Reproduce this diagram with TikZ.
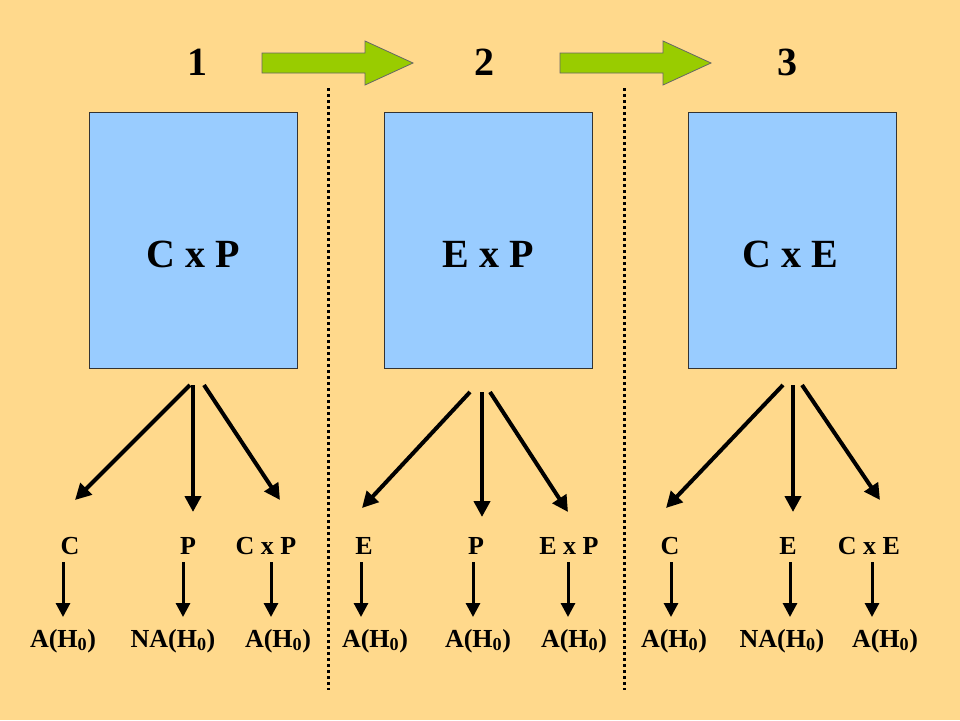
\documentclass[tikz,border=0pt]{standalone}
\usepackage{fontspec}
\setmainfont{Liberation Serif}
\usetikzlibrary{arrows.meta}
\definecolor{bg}{HTML}{FFD98C}
\definecolor{bx}{HTML}{99CCFF}
\definecolor{gr}{HTML}{99CC00}
\tikzset{
 box/.style={draw=black!80,fill=bx,line width=0.8pt,minimum width=208pt,minimum height=256pt,inner sep=0pt,font=\bfseries\fontsize{40}{40}\selectfont},
 num/.style={font=\bfseries\fontsize{40}{40}\selectfont},
 lab/.style={font=\bfseries\fontsize{26}{26}\selectfont,inner sep=0pt},
 big/.style={-{Triangle[length=16pt,width=16pt]},line width=4pt},
 small/.style={-{Triangle[length=14pt,width=14pt]},line width=3pt},
 dots/.style={line width=3pt,dash pattern=on 3pt off 3pt},
}
\begin{document}
\begin{tikzpicture}[x=1pt,y=-1pt]
\fill[bg] (0,0) rectangle (960,720);
\useasboundingbox (0,0) rectangle (960,720);
\node[num] (n1) at (197,62) {1};
\node[num] (n2) at (484,62) {2};
\node[num] (n3) at (787,62) {3};
\foreach \x in {262,560}{
 \draw[fill=gr,draw=black!60,line width=0.8pt] (\x,53)--(\x+103,53)--(\x+103,41)--(\x+151,63)--(\x+103,85)--(\x+103,73)--(\x,73)--cycle;}
\draw[dots] (328,88)--(328,690);
\draw[dots] (624,88)--(624,690);
\node[box] (b1) at (193,240) {};
\node[box] (b2) at (488.5,240) {};
\node[box] (b3) at (792,240) {};
\node[num] (t1) at (193,254) {C x P};
\node[num] (t2) at (488,254) {E x P};
\node[num] (t3) at (790,254) {C x E};
\foreach \i/\a/\b/\c/\d/\e/\f in {
 1/C/P/C x P/A(H\textsubscript{0})/NA(H\textsubscript{0})/A(H\textsubscript{0}),
 2/E/P/E x P/A(H\textsubscript{0})/A(H\textsubscript{0})/A(H\textsubscript{0}),
 3/C/E/C x E/A(H\textsubscript{0})/NA(H\textsubscript{0})/A(H\textsubscript{0})}{}
% box 1
\coordinate (s1a) at (190,385); \coordinate (s1b) at (193,385); \coordinate (s1c) at (204,385);
\coordinate (e1a) at (75,500); \coordinate (e1b) at (193,512); \coordinate (e1c) at (280,500);
\coordinate (s2a) at (470,392); \coordinate (s2b) at (482,392); \coordinate (s2c) at (490,392);
\coordinate (e2a) at (362,508); \coordinate (e2b) at (482,517); \coordinate (e2c) at (568,512);
\coordinate (s3a) at (783,385); \coordinate (s3b) at (793,385); \coordinate (s3c) at (802,385);
\coordinate (e3a) at (666,508); \coordinate (e3b) at (793,512); \coordinate (e3c) at (880,500);
\foreach \k in {1,2,3}{\foreach \m in {a,b,c}{\draw[big] (s\k\m)--(e\k\m);}}
\foreach \n/\x/\t/\y/\u in {
 l1/70/C/63/A(H\textsubscript{0}), l2/188/P/183/NA(H\textsubscript{0}), l3/266/C x P/271/A(H\textsubscript{0}),
 l4/364/E/361/A(H\textsubscript{0}), l5/476/P/473/A(H\textsubscript{0}), l6/569/E x P/568/A(H\textsubscript{0}),
 l7/670/C/671/A(H\textsubscript{0}), l8/788/E/790/A(H\textsubscript{0}), l9/869/C x E/872/A(H\textsubscript{0})}{
 \node[lab] (\n) at (\x,546) {\t};
 \coordinate (\n s) at (\y,562); \coordinate (\n e) at (\y,617);
 \draw[small] (\n s)--(\n e);}
\foreach \n/\x/\t in {m1/63/A(H\textsubscript{0}), m2/173/NA(H\textsubscript{0}), m3/278/A(H\textsubscript{0}),
 m4/375/A(H\textsubscript{0}), m5/478/A(H\textsubscript{0}), m6/574/A(H\textsubscript{0}),
 m7/674/A(H\textsubscript{0}), m8/782/NA(H\textsubscript{0}), m9/885/A(H\textsubscript{0})}{
 \node[lab] (\n) at (\x,641) {\t};}
\end{tikzpicture}
\end{document}
